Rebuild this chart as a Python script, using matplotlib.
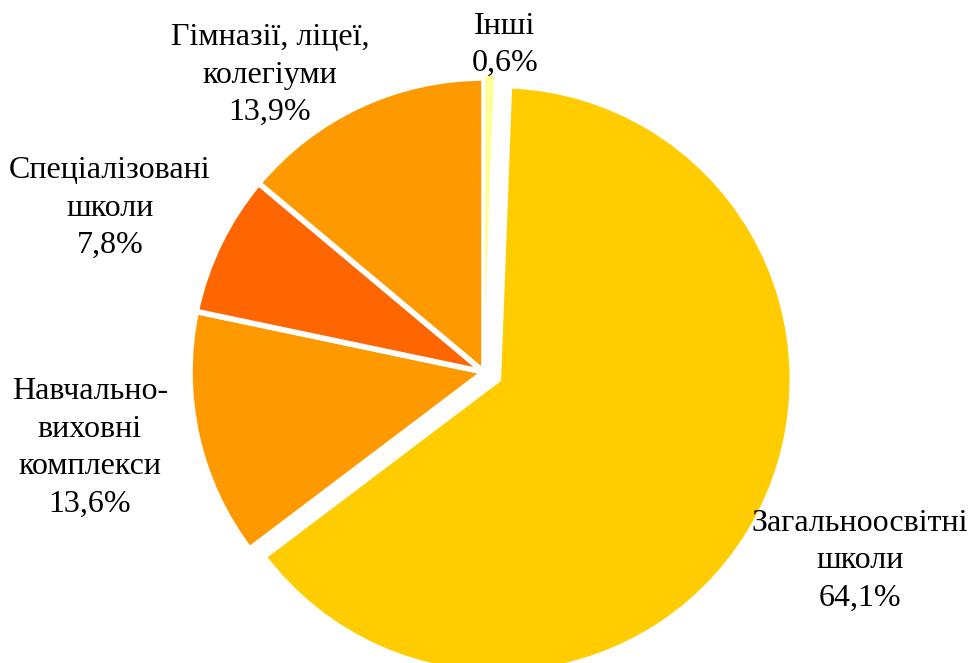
import matplotlib
matplotlib.use("Agg")
import matplotlib.pyplot as plt

categories = ["Інші", "Загальноосвітні\nшколи", "Навчально-\nвиховні\nкомплекси",
              "Спеціалізовані\nшколи", "Гімназії, ліцеї,\nколегіуми"]
values = [0.6, 64.1, 13.6, 7.8, 13.9]
value_labels = ["0,6%", "64,1%", "13,6%", "7,8%", "13,9%"]
colors = ["#FFFF99", "#FFCC00", "#FF9900", "#FF6600", "#FF9900"]
explode = [0.012, 0.055, 0, 0, 0]

W, H = 971, 663
fig = plt.figure(figsize=(W / 100, H / 100), dpi=100)
ax = fig.add_axes([0, 0, 1, 1])

cx, cy, R = 484, 372, 294
wedges, _ = ax.pie(values, colors=colors, explode=explode, startangle=90, counterclock=False,
                   wedgeprops=dict(edgecolor="white", linewidth=4))
wedges[0].set_linewidth(1.6)
wedges[0].set_edgecolor("white")
wedges[0].set_zorder(5)
ax.set_xlim(-cx / R, (W - cx) / R)
ax.set_ylim(-(H - cy) / R, cy / R)
ax.set_aspect("auto")
ax.axis("off")

label_pos = [(505, 45), (860, 561), (90, 448), (110, 208), (270, 75)]
for cat, vl, (px, py) in zip(categories, value_labels, label_pos):
    fig.text(px / W, 1 - py / H, cat + "\n" + vl, ha="center", va="center",
             fontsize=23, family="Liberation Serif", linespacing=1.38)

fig.savefig("out.png", dpi=100)
